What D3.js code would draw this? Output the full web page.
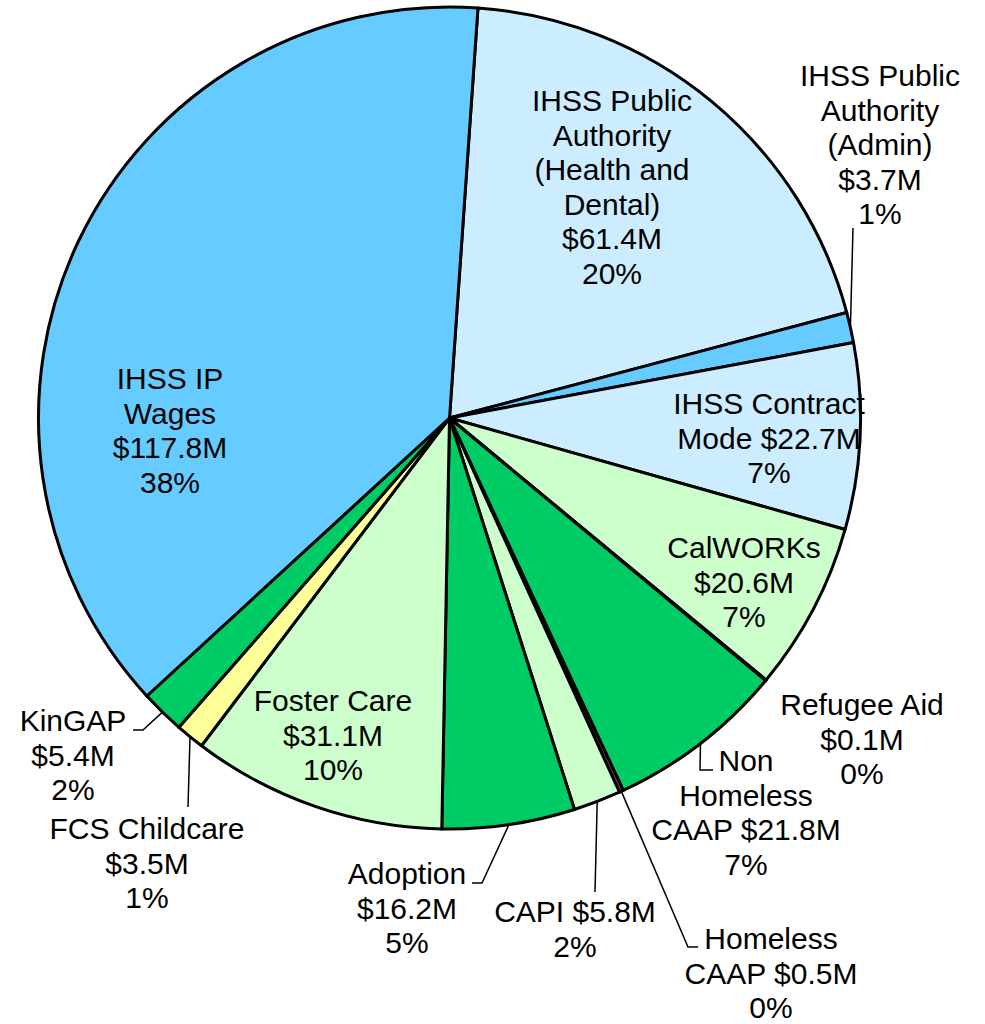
<!DOCTYPE html>
<html>
<head>
<meta charset="utf-8">
<script src="https://cdn.jsdelivr.net/npm/d3@7"></script>
<style>
  html, body { margin: 0; padding: 0; background: #fff; }
  svg { display: block; }
  .label { font-family: "Liberation Sans", Arial, sans-serif; font-size: 30px; fill: #000; }
  .leader { fill: none; stroke: #000; stroke-width: 1.5; }
</style>
</head>
<body>
<svg id="chart" width="985" height="1024"></svg>
<script>
// slices in drawing order (clockwise from the top)
const programs = [
  "IHSS Public Authority (Health and Dental)",
  "IHSS Public Authority (Admin)",
  "IHSS Contract Mode",
  "CalWORKs",
  "Refugee Aid",
  "Non Homeless CAAP",
  "Homeless CAAP",
  "CAPI",
  "Adoption",
  "Foster Care",
  "FCS Childcare",
  "KinGAP",
  "IHSS IP Wages"
];

// $ millions
const amounts = [61.4, 3.7, 22.7, 20.6, 0.1, 21.8, 0.5, 5.8, 16.2, 31.1, 3.5, 5.4, 117.8];

// label text, {v} = amount, {p} = share
const labelLines = [
  ["IHSS Public", "Authority", "(Health and", "Dental)", "{v}", "{p}"],
  ["IHSS Public", "Authority", "(Admin)", "{v}", "{p}"],
  ["IHSS Contract", "Mode {v}", "{p}"],
  ["CalWORKs", "{v}", "{p}"],
  ["Refugee Aid", "{v}", "{p}"],
  ["Non", "Homeless", "CAAP {v}", "{p}"],
  ["Homeless", "CAAP {v}", "{p}"],
  ["CAPI {v}", "{p}"],
  ["Adoption", "{v}", "{p}"],
  ["Foster Care", "{v}", "{p}"],
  ["FCS Childcare", "{v}", "{p}"],
  ["KinGAP", "{v}", "{p}"],
  ["IHSS IP", "Wages", "{v}", "{p}"]
];

const colors = [
  "#CCECFF", "#66CCFF", "#CCECFF", "#CCFFCC", "#CCFFCC", "#00CC66",
  "#993366", "#CCFFCC", "#00CC66", "#CCFFCC", "#FFFF99", "#00CC66", "#66CCFF"
];

// layout: label anchor (first line baseline) and leader bends
const labelPos = [
  { x: 612, y: 111 },
  { x: 880, y: 86, leader: [[853, 228]] },
  { x: 769, y: 414 },
  { x: 744, y: 558 },
  { x: 862, y: 715 },
  { x: 746, y: 771, leader: [[700, 770], [713, 770]] },
  { x: 771, y: 949, leader: [[688, 947], [698, 947]] },
  { x: 575, y: 922, leader: [[595, 892]] },
  { x: 407, y: 884, leader: [[482, 883], [472, 883]] },
  { x: 333, y: 711 },
  { x: 147, y: 839, leader: [[188, 807]] },
  { x: 73, y: 731, leader: [[143, 730], [133, 730]] },
  { x: 170, y: 389 }
];

const cx = 449.5, cy = 418, radius = 411;
const lineH = 34.5;
const startAngle = 3.97 * Math.PI / 180;

const total = d3.sum(amounts);
const data = programs.map((name, i) => ({ name, value: amounts[i], i }));

const svg = d3.select("#chart");
const g = svg.append("g").attr("transform", `translate(${cx},${cy})`);

const pie = d3.pie()
  .value(d => d.value)
  .sort(null)
  .startAngle(startAngle)
  .endAngle(startAngle + 2 * Math.PI);

const arcs = pie(data);

const arc = d3.arc().innerRadius(0).outerRadius(radius);
const edge = d3.arc().innerRadius(radius).outerRadius(radius);

g.selectAll("path.slice")
  .data(arcs)
  .join("path")
  .attr("class", "slice")
  .attr("d", arc)
  .attr("fill", d => colors[d.data.i])
  .attr("stroke", "#000")
  .attr("stroke-width", 3)
  .attr("stroke-linejoin", "round");

// leader lines
arcs.forEach(d => {
  const pos = labelPos[d.data.i];
  if (!pos.leader) return;
  const [sx, sy] = edge.centroid(d);
  const pts = [[sx + cx, sy + cy]].concat(pos.leader);
  svg.append("path")
    .attr("class", "leader")
    .attr("d", d3.line()(pts));
});

const fmtV = v => "$" + v.toFixed(1) + "M";
const fmtP = v => Math.round(v / total * 100) + "%";

arcs.forEach(d => {
  const pos = labelPos[d.data.i];
  const lines = labelLines[d.data.i].map(s =>
    s.replace("{v}", fmtV(d.data.value)).replace("{p}", fmtP(d.data.value)));
  const t = svg.append("text")
    .attr("class", "label")
    .attr("text-anchor", "middle");
  lines.forEach((s, k) => {
    t.append("tspan")
      .attr("x", pos.x)
      .attr("y", pos.y + k * lineH)
      .text(s);
  });
});
</script>
</body>
</html>
